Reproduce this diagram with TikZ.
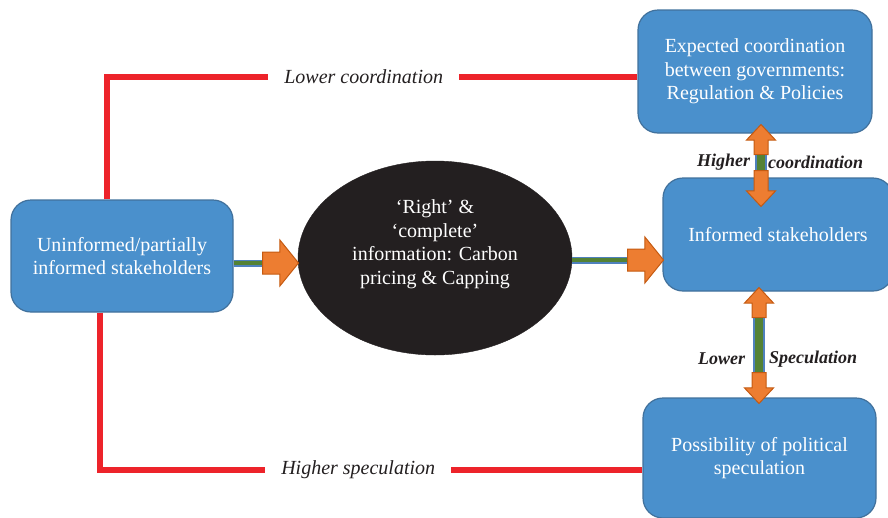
\documentclass[tikz,border=0pt]{standalone}
\usepackage{fontspec}
\setmainfont{Liberation Serif}
\usetikzlibrary{shapes.geometric}
\usetikzlibrary{shapes.arrows}
\definecolor{boxblue}{RGB}{74,144,204}
\definecolor{boxedge}{RGB}{65,113,156}
\definecolor{arrorange}{RGB}{237,125,49}
\definecolor{arredge}{RGB}{197,90,17}
\definecolor{shaftgreen}{RGB}{84,130,53}
\definecolor{shaftblue}{RGB}{79,129,189}
\definecolor{linkred}{RGB}{237,35,42}
\definecolor{darktext}{RGB}{35,31,32}
\tikzset{
    stakebox/.style={
        draw=boxedge, line width=1.2pt, fill=boxblue, rounded corners=20pt,
        text=white, align=center, font=\fontsize{20}{23.5}\selectfont
    },
    blockarrow/.style={
        single arrow, draw=arredge, line width=1pt, fill=arrorange
    },
    harrow/.style={
        blockarrow, inner xsep=0pt, inner ysep=10.5pt,
        single arrow head extend=12pt, single arrow tip angle=102
    },
    varrow/.style={
        blockarrow, inner xsep=6.5pt, inner ysep=0pt,
        single arrow head extend=7.5pt, single arrow tip angle=86
    },
    hshaft/.style={
        draw=shaftblue, line width=7pt,
        postaction={draw=shaftgreen, line width=4.5pt}
    },
    vshaft/.style={
        draw=shaftblue, line width=12pt,
        postaction={draw=shaftgreen, line width=8pt}
    },
    redlink/.style={draw=linkred, line width=6.5pt},
    linklabel/.style={
        fill=white, inner xsep=16pt, inner ysep=2pt, text=darktext,
        font=\fontsize{20}{24}\selectfont\itshape
    },
    vlabel/.style={
        inner sep=0pt, text=darktext,
        font=\fontsize{18}{20}\selectfont\bfseries\itshape
    }
}
\newcommand{\blockarrow}[6] {
	\node[#6, anchor=tail, shape border rotate=#4, minimum height=#5pt] (#1) at (#2,#3) {};
}

\begin{document}
\begin{tikzpicture}[x=1pt, y=-1pt]
		\useasboundingbox (0,0) rectangle (888,517);

		% Stakeholder boxes
		\node[stakebox, minimum width=222pt, minimum height=112pt] (uninf) at (122,256) {Uninformed/partially\\informed stakeholders};
		\node[stakebox, minimum width=234pt, minimum height=123pt] (expect) at (755,71.5) {Expected coordination\\between governments:\\Regulation \& Policies};
		\node[stakebox, minimum width=230pt, minimum height=113pt] (informed) at (778,234.5) {Informed stakeholders};
		\node[stakebox, minimum width=233pt, minimum height=120pt] (possib) at (759.5,458) {Possibility of political\\speculation};

		% Information ellipse
		\node[ellipse, draw=darktext, fill=darktext, minimum width=274pt, minimum height=194pt] (info) at (435,258) {};
		\node[text=white, align=center, font=\fontsize{20}{23.5}\selectfont] (infotext) at (435,244) {‘Right’ \&\\‘complete’\\information: Carbon\\pricing \& Capping};

		% Red links
		\draw[redlink] ([xshift=-15pt]uninf.north) |- node[pos=0.742, linklabel] (lowcoord) {Lower coordination} ([yshift=-5.5pt]expect.west);
		\draw[redlink] ([xshift=-22pt]uninf.south) |- node[pos=0.738, linklabel] (highspec) {Higher speculation} ([yshift=-12pt]possib.west);

		% Horizontal arrows
		\blockarrow{ahead1}{262}{263}{0}{36}{harrow}
		\draw[hshaft] (uninf.east |- ahead1.tail) -- (ahead1.tail);
		\blockarrow{ahead2}{627}{260}{0}{36}{harrow}
		\draw[hshaft] (info.east |- ahead2.tail) -- (ahead2.tail);

		% Vertical arrows
		\blockarrow{coordup}{761}{155}{90}{30}{varrow}
		\blockarrow{coorddown}{761}{170}{270}{36}{varrow}
		\draw[vshaft] (coordup.tail) -- node[left=5pt, vlabel] (coordleft) {Higher} node[right=1pt, vlabel] (coordright) {coordination} (coorddown.tail);

		\blockarrow{specup}{759}{318}{90}{30}{varrow}
		\blockarrow{specdown}{759}{372}{270}{31}{varrow}
		\draw[vshaft] (specup.tail) -- node[pos=0.76, left=8pt, vlabel] (specleft) {Lower} node[pos=0.76, right=4pt, vlabel] (specright) {Speculation} (specdown.tail);

	\end{tikzpicture}
\end{document}
